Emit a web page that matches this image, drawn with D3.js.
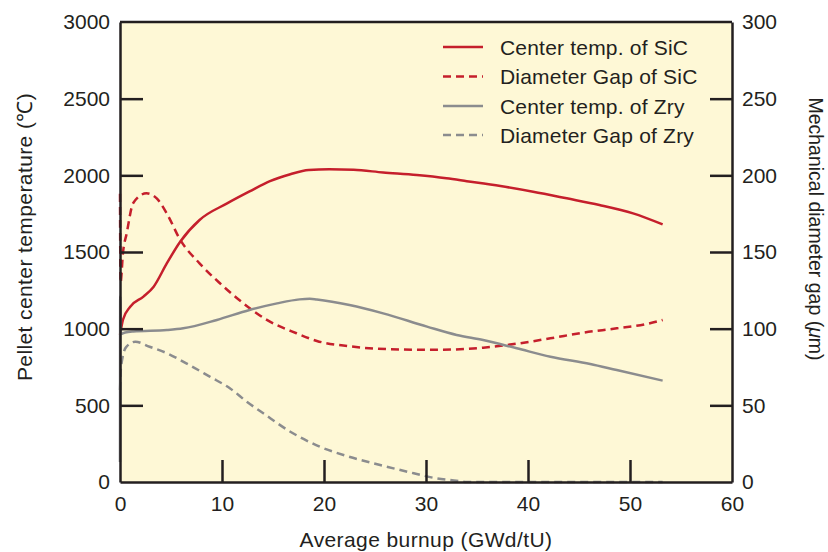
<!DOCTYPE html>
<html>
<head>
<meta charset="utf-8">
<script src="https://cdn.jsdelivr.net/npm/d3@7"></script>
<style>
body { margin: 0; background: #fff; }
text { font-family: "Liberation Sans", Arial, sans-serif; fill: #231f20; }
.label { font-size: 21px; letter-spacing: 0.4px; }
.legend-text { font-size: 21px; letter-spacing: 0.2px; }
.right-title { font-size: 19.5px; }
</style>
</head>
<body>
<svg id="chart" width="828" height="552"></svg>
<script>
var svgWidth = 828;
var svgHeight = 552;
var plotLeft = 120, plotRight = 732, plotTop = 22, plotBottom = 482;

// burnup (GWd/tU), value
var sicTemp = [[0,960],[0.3,1060],[1,1143],[2.3,1209],[3.3,1274],[4.6,1427],[5.9,1567],[7.8,1709],
    [10.5,1817],[12.7,1895],[14.7,1962],[16.7,2007],[18.5,2035],[20.5,2040],[22.9,2036],[25.8,2019],
    [29.1,2002],[32,1981],[34,1962],[37.3,1930],[40.5,1893],[43.8,1850],[47,1807],[50.3,1752],[53.2,1680]];
var sicGap = [[0,188],[0.05,130],[0.3,150],[0.65,162],[1.3,182],[2.6,188.3],[3.6,185],[4.6,175],
    [5.9,158],[7.8,142.6],[9.8,129.6],[12.1,116.5],[14.4,105.7],[17.3,97],[19.3,92],[22.5,88.5],
    [27.5,86.4],[30.7,86.2],[35.6,87.6],[38.9,90.2],[42.2,93.7],[45.4,97.4],[48.7,100.2],[51.6,103],[53.2,105.7]];
var zryTemp = [[0,130],[0.02,1210],[0.1,965],[0.5,975],[1.3,982],[4.6,991],[6.2,1002],[9.5,1057],
    [12.7,1122],[15.4,1165],[17.6,1191],[18.6,1195],[19.3,1190],[22.5,1154],[25.8,1100],[30.1,1013],
    [33,959],[35.6,926],[38.9,872],[42.2,817],[46.1,770],[48.7,730],[53.2,661]];
var zryGap = [[0,60],[0.1,75],[0.6,88],[1.5,91.5],[2.9,88.2],[4.6,84],[6.5,77.4],[8.8,68.7],
    [10.8,61],[12.5,52],[14.05,44.8],[16.7,32.8],[19.6,23],[22.2,17],[25.5,11.1],[28.8,5.7],
    [31,2.4],[33,0.8],[34,0],[53.2,0]];

var xTicks = [0,10,20,30,40,50,60];
var yTicks = [0,500,1000,1500,2000,2500,3000];
var y2Ticks = [0,50,100,150,200,250,300];

var series = [
    {name: "Center temp. of SiC", data: sicTemp, axis: "left", color: "#c51f2c", dash: null},
    {name: "Diameter Gap of SiC", data: sicGap, axis: "right", color: "#c51f2c", dash: "8,5"},
    {name: "Center temp. of Zry", data: zryTemp, axis: "left", color: "#8b8c8e", dash: null},
    {name: "Diameter Gap of Zry", data: zryGap, axis: "right", color: "#8b8c8e", dash: "8,5"}
];

var svg = d3.select("#chart");

var xScale = d3.scaleLinear().domain([0,60]).range([plotLeft,plotRight]);
var yScale = d3.scaleLinear().domain([0,3000]).range([plotBottom,plotTop]);
var y2Scale = d3.scaleLinear().domain([0,300]).range([plotBottom,plotTop]);

// 배경
svg.append("rect")
    .attr("x", plotLeft).attr("y", plotTop)
    .attr("width", plotRight-plotLeft).attr("height", plotBottom-plotTop)
    .attr("fill", "#fef8d6");

// 선
var plot = svg.append("g");
series.forEach(function(s){
    var ys = s.axis == "left" ? yScale : y2Scale;
    var line = d3.line()
        .x(d => xScale(d[0]))
        .y(d => ys(d[1]))
        .curve(d3.curveMonotoneX);
    plot.append("path")
        .datum(s.data)
        .attr("d", line)
        .attr("fill", "none")
        .attr("stroke", s.color)
        .attr("stroke-width", 2.5)
        .attr("stroke-dasharray", s.dash);
});

// 축
var fmt = d3.format("d");
var xAxis = d3.axisBottom(xScale).tickValues(xTicks).tickFormat(fmt).tickSizeInner(-22).tickSizeOuter(0).tickPadding(14);
var yAxis = d3.axisLeft(yScale).tickValues(yTicks).tickFormat(fmt).tickSizeInner(-23).tickSizeOuter(0).tickPadding(10);
var y2Axis = d3.axisRight(y2Scale).tickValues(y2Ticks).tickFormat(fmt).tickSizeInner(-22).tickSizeOuter(0).tickPadding(10);

function styleAxis(g){
    g.select(".domain").attr("stroke", "#231f20").attr("stroke-width", 2.5);
    g.selectAll(".tick line").attr("stroke", "#231f20").attr("stroke-width", 2.5);
    g.selectAll(".tick text").attr("font-size", 21).attr("fill", "#231f20")
        .style("font-family", "'Liberation Sans', Arial, sans-serif");
}

var gx = svg.append("g").attr("transform", "translate(0," + plotBottom + ")").call(xAxis);
styleAxis(gx);
gx.selectAll(".tick").filter(d => d == 0 || d == 60).select("line").remove();

var gy = svg.append("g").attr("transform", "translate(" + plotLeft + ",0)").call(yAxis);
styleAxis(gy);
gy.selectAll(".tick").filter(d => d == 0 || d == 3000).select("line").remove();

var gy2 = svg.append("g").attr("transform", "translate(" + plotRight + ",0)").call(y2Axis);
styleAxis(gy2);
gy2.selectAll(".tick").filter(d => d == 0 || d == 300).select("line").remove();

// 위쪽 테두리
svg.append("line")
    .attr("x1", plotLeft).attr("x2", plotRight)
    .attr("y1", plotTop).attr("y2", plotTop)
    .attr("stroke", "#231f20").attr("stroke-width", 2.5);

// 범례
var legend = svg.append("g");
var legendY = [47, 76.5, 106, 135];
series.forEach(function(s, i){
    legend.append("line")
        .attr("x1", 443).attr("x2", 483)
        .attr("y1", legendY[i]).attr("y2", legendY[i])
        .attr("stroke", s.color)
        .attr("stroke-width", 2.5)
        .attr("stroke-dasharray", s.dash ? "8,5" : null);
    legend.append("text")
        .attr("class", "legend-text")
        .attr("x", 500).attr("y", legendY[i])
        .attr("dy", "0.36em")
        .text(s.name);
});

// 축 제목
svg.append("text")
    .attr("class", "label")
    .attr("x", (plotLeft+plotRight)/2).attr("y", 547)
    .attr("text-anchor", "middle")
    .text("Average burnup (GWd/tU)");

svg.append("text")
    .attr("class", "label")
    .attr("transform", "translate(32,237) rotate(-90)")
    .attr("text-anchor", "middle")
    .text("Pellet center temperature (℃)");

var rt = svg.append("text")
    .attr("class", "right-title")
    .attr("transform", "translate(809,229) rotate(90)")
    .attr("text-anchor", "middle");
rt.append("tspan").text("Mechanical diameter gap (");
rt.append("tspan").attr("font-style", "italic").text("μ");
rt.append("tspan").text("m)");
</script>
</body>
</html>
